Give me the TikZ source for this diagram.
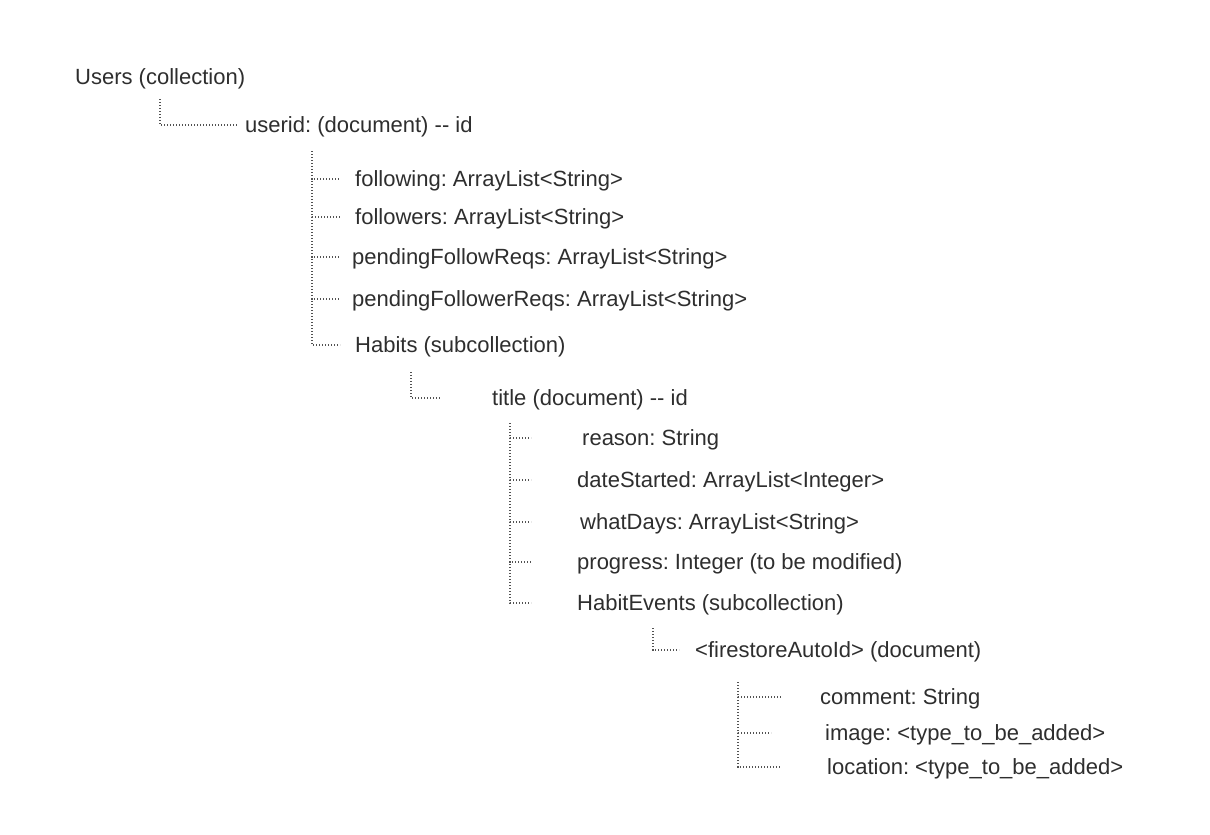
\documentclass[tikz,border=0pt]{standalone}
\usepackage{fontspec}
\setmainfont{Liberation Sans}
\begin{document}
\frenchspacing
\begin{tikzpicture}[x=1pt,y=-1pt,
  label/.style={anchor=west,inner sep=0pt,text height=15.5pt,text depth=0pt,
    font=\fontsize{22}{26}\selectfont,text=black!82},
  branch/.style={draw=black!68,line width=1.2pt,dash pattern=on 1.2pt off 1.8pt}]
\useasboundingbox[fill=white] (0,0) rectangle (1210,835);

% entries of the tree
\node[label] (users)    at (75,77)  {Users (collection)};
\node[label] (userid)   at (245,125) {userid: (document) -{}- id};
\node[label] (following) at (355,179) {following: ArrayList<String>};
\node[label] (followers) at (355,217) {followers: ArrayList<String>};
\node[label] (pfollow)  at (352,257) {pendingFollowReqs: ArrayList<String>};
\node[label] (pfollower) at (352,299) {pendingFollowerReqs: ArrayList<String>};
\node[label] (habits)   at (355,345) {Habits (subcollection)};
\node[label] (title)    at (492,398) {title (document) -{}- id};
\node[label] (reason)   at (582,438) {reason: String};
\node[label] (started)  at (577,480) {dateStarted: ArrayList<Integer>};
\node[label] (whatdays) at (580,522) {whatDays: ArrayList<String>};
\node[label] (progress) at (577,562) {progress: Integer (to be modified)};
\node[label] (events)   at (577,603) {HabitEvents (subcollection)};
\node[label] (autoid)   at (695,650) {<firestoreAutoId> (document)};
\node[label] (comment)  at (820,697) {comment: String};
\node[label] (image)    at (825,733) {image: <type\_to\_be\_added>};
\node[label] (location) at (827,767) {location: <type\_to\_be\_added>};

% tops of the vertical guide lines
\coordinate (t0) at (160,99);
\coordinate (t1) at (312,151);
\coordinate (t2) at (411,372);
\coordinate (t3) at (510,423);
\coordinate (t4) at (653,628);
\coordinate (t5) at (738,682);

% dotted elbows
\draw[branch,shorten >=7pt]  (t0) |- (userid.west);
\draw[branch,shorten >=15pt] (t1) |- (following.west);
\draw[branch,shorten >=15pt] (t1) |- (followers.west);
\draw[branch,shorten >=12pt] (t1) |- (pfollow.west);
\draw[branch,shorten >=12pt] (t1) |- (pfollower.west);
\draw[branch,shorten >=15pt] (t1) |- (habits.west);
\draw[branch,shorten >=52pt] (t2) |- (title.west);
\draw[branch,shorten >=51pt] (t3) |- (reason.west);
\draw[branch,shorten >=46pt] (t3) |- (started.west);
\draw[branch,shorten >=49pt] (t3) |- (whatdays.west);
\draw[branch,shorten >=46pt] (t3) |- (progress.west);
\draw[branch,shorten >=46pt] (t3) |- (events.west);
\draw[branch,shorten >=16pt] (t4) |- (autoid.west);
\draw[branch,shorten >=39pt] (t5) |- (comment.west);
\draw[branch,shorten >=54pt] (t5) |- (image.west);
\draw[branch,shorten >=46pt] (t5) |- (location.west);
\end{tikzpicture}
\end{document}
